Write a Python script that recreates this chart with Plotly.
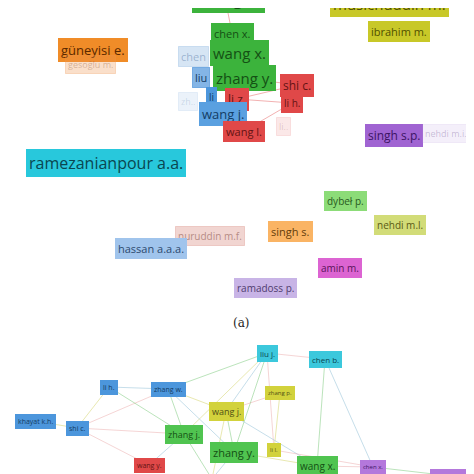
import plotly.graph_objects as go

# node labels (panel a then panel b), positions in pixels
names = ['zhang h.', 'musichuddin m.', 'ibrahim m.', 'chen x.', 'güneyisi e.', 'gesoğlu m.', 'chen', 'wang x.',
         'liu', 'zhang y.', 'shi c.', 'li h.', 'li', 'li z.', 'zh..', 'wang j.', 'wang l.', 'li..',
         'singh s.p.', 'nehdi m.i.', 'ramezanianpour a.a.', 'dybeł p.', 'nehdi m.l.', 'nuruddin m.f.',
         'singh s.', 'hassan a.a.a.', 'amin m.', 'ramadoss p.',
         'liu j.', 'chen b.', 'li h.', 'zhang w.', 'zhang p.', 'wang j.', 'khayat k.h.', 'shi c.',
         'zhang j.', 'zhang y.', 'li l.', 'wang y.', 'wang x.', 'chen x.', 'kwan a.k.h.', 'wu']
xs = [220, 381, 391, 224, 85, 82, 185, 231, 193, 236, 289, 284, 203, 229, 180, 215, 236, 275,
      386, 438, 98, 337, 392, 202, 282, 143, 332, 257,
      259, 317, 101, 160, 272, 218, 27, 69, 176, 226, 266, 141, 309, 365, 443, 204]
ys = [5, 9, 23, 25, 42, 56, 48, 45, 69, 70, 77, 95, 89, 91, 93, 106, 123, 118,
      127, 125, 155, 193, 217, 228, 223, 240, 260, 280,
      345, 351, 379, 381, 385, 403, 413, 420, 426, 444, 442, 457, 458, 459, 468, 471]
anchors = ['bottom', 'bottom'] + ['middle'] * 41 + ['top']
sizes = [17, 15, 11, 11, 13, 9, 11, 15, 11, 15, 12, 10, 10, 12, 9, 13, 11, 9,
         12, 9, 16, 10, 10, 10, 11, 11, 10, 10,
         8, 8, 7, 7, 6, 9, 7, 7, 9, 11, 6, 7, 10, 6, 7, 7]
colors = ['#3cb33c', '#c8c828', '#c8c828', '#3cb33c', '#f08c28', 'rgba(240,150,80,0.3)',
          'rgba(120,170,220,0.3)', '#3cb33c', 'rgba(80,150,220,0.7)', '#3cb33c', '#e04848', '#e04848',
          '#4c96dc', '#e04848', 'rgba(120,170,220,0.15)', '#5aa0e0', '#e04848', 'rgba(230,100,100,0.15)',
          '#a064d2', 'rgba(180,150,220,0.15)', '#28c8dc', '#8cdc78', '#d2dc78', 'rgba(220,150,140,0.4)',
          '#fab464', '#a0c4ec', '#dc64d2', '#c8b4e6',
          '#3cc8dc', '#3cc8dc', '#4c96dc', '#4c96dc', '#d2d23c', '#d2d23c', '#4c96dc', '#4c96dc',
          '#50c450', '#50c450', '#d2d23c', '#e04848', '#50c450', '#b478dc', '#b478dc', '#d2d23c']
textcol = ['#145014', '#505000', '#505000', '#145014', '#5a2800', 'rgba(120,60,20,0.3)',
           'rgba(60,100,150,0.4)', '#145014', '#143c64', '#145014', '#641414', '#641414',
           '#143c64', '#641414', 'rgba(60,100,150,0.2)', '#143c64', '#641414', 'rgba(120,40,40,0.2)',
           '#3c1464', 'rgba(90,60,130,0.3)', '#0a4650', '#285a1e', '#5a5a14', 'rgba(120,60,50,0.5)',
           '#643c0a', '#2d4a6e', '#5a145a', '#503c6e',
           '#0a4650', '#0a4650', '#143c64', '#143c64', '#505014', '#505014', '#143c64', '#143c64',
           '#145014', '#145014', '#505014', '#641414', '#145014', '#3c1464', '#3c1464', '#505014']

# edges as index pairs
edges = [(0, 3), (9, 10), (13, 11), (13, 16), (16, 11), (15, 13), (10, 13),
         (28, 29), (28, 31), (28, 33), (28, 36), (28, 38), (28, 37), (30, 31), (30, 35), (31, 35),
         (31, 36), (31, 37), (31, 33), (35, 36), (29, 40), (29, 41), (32, 38), (32, 33), (33, 37),
         (33, 40), (37, 40), (40, 41), (41, 42), (36, 39), (34, 35), (35, 39), (36, 43), (37, 43),
         (33, 43), (38, 41), (30, 36)]
edge_colors = ['rgba(120,200,120,0.5)', 'rgba(160,200,220,0.6)', 'rgba(210,210,100,0.5)',
               'rgba(230,150,150,0.4)']

fig = go.Figure()
for i, (a, b) in enumerate(edges):
    fig.add_trace(go.Scatter(x=[xs[a], xs[b]], y=[ys[a], ys[b]], mode='lines',
                             line=dict(color=edge_colors[i % 4] if a > 27 else 'rgba(230,100,100,0.5)', width=1),
                             hoverinfo='skip', showlegend=False))

for n, x, y, s, c, t, an in zip(names, xs, ys, sizes, colors, textcol, anchors):
    fig.add_annotation(x=x, y=y, text=n, showarrow=False, bgcolor=c, bordercolor=c, yanchor=an,
                       borderwidth=1, borderpad=2, font=dict(size=s, color=t, family='Open Sans'))

fig.add_annotation(x=233, y=315, text='(a)', showarrow=False,
                   font=dict(size=12, color='#222', family='DejaVu Serif'))

fig.update_layout(width=474, height=474, margin=dict(l=0, r=0, t=0, b=0),
                  plot_bgcolor='white', paper_bgcolor='white',
                  xaxis=dict(range=[0, 474], visible=False),
                  yaxis=dict(range=[474, 0], visible=False))

fig.write_html('out.html')
